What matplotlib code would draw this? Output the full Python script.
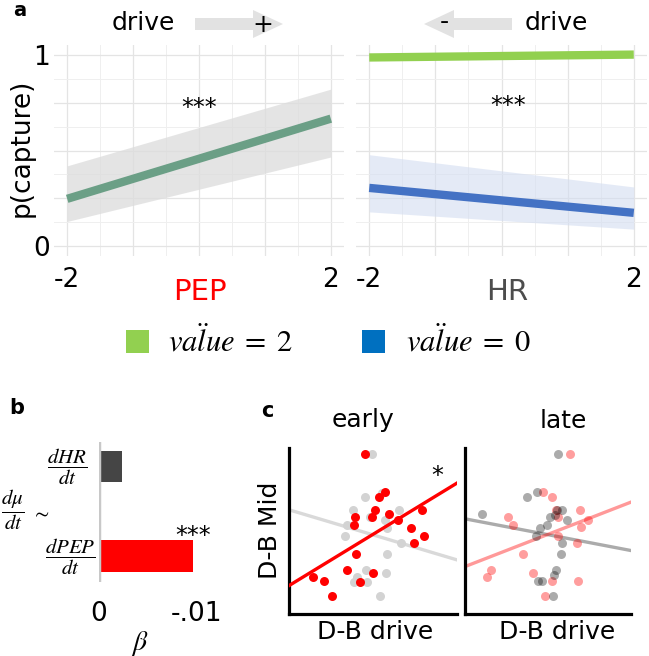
import matplotlib
matplotlib.use("Agg")
import matplotlib.pyplot as plt
from matplotlib.patches import FancyArrow, Rectangle

plt.rcParams.update({
    "font.family": ["DejaVu Sans"],
    "mathtext.fontset": "stix",
    "axes.unicode_minus": False,
})

W, H = 649, 656

# ---- panel a: p(capture) vs drive ----
drive_x = [-2, 2]
pep_fit = [0.248, 0.666]
pep_lo = [0.13, 0.466]
pep_hi = [0.42, 0.82]
hr_fit_v2 = [0.985, 1.0]
hr_fit_v0 = [0.305, 0.175]
hr_lo_v0 = [0.18, 0.09]
hr_hi_v0 = [0.478, 0.31]
a_stars = [(0.0, 0.72), (0.1, 0.73)]
a_xticks = [-2, -1, 0, 1, 2]
a_xticklabels = ["-2", "", "", "", "2"]
a_yticks = [0, 0.25, 0.5, 0.75, 1]
a_yticklabels = ["0", "", "", "", "1"]
legend_labels = [r"$va\ddot{l}ue\;=\;2$", r"$va\ddot{l}ue\;=\;0$"]

# ---- panel b: beta of d(mu)/dt ~ dHR/dt + dPEP/dt ----
b_terms = [r"$\dfrac{dPEP}{dt}$", r"$\dfrac{dHR}{dt}$"]
b_beta = [-0.00959, -0.00235]
b_ticks = [0, -0.01]
b_ticklabels = ["0", "-.01"]

# ---- panel c: D-B Mid vs D-B drive ----
early_red_x = [4.56, 5.76, 5.36, 5.12, 5.00, 6.00, 3.96, 3.90, 6.52, 7.96,
               7.32, 8.10, 7.46, 4.00, 3.50, 5.04, 4.28, 1.46, 2.08, 2.56]
early_red_y = [9.60, 7.28, 6.98, 6.20, 5.80, 6.00, 5.80, 5.32, 5.64, 6.20,
               5.16, 4.70, 4.24, 3.58, 2.64, 2.46, 1.94, 2.22, 1.96, 1.10]
early_grey_x = [4.96, 4.56, 5.56, 3.82, 4.86, 6.56, 5.76, 3.46, 3.36, 5.86,
                6.68, 5.86, 4.60, 5.80, 4.06, 3.92, 4.66, 5.46]
early_grey_y = [9.60, 7.00, 7.24, 6.20, 5.80, 6.20, 5.64, 5.32, 4.68, 5.14,
                4.24, 3.58, 2.64, 2.46, 2.24, 1.94, 1.94, 1.10]
early_red_fit = ([0, 10.06], [1.70, 7.84])
early_grey_fit = ([0, 10.06], [6.24, 3.24])

late_red_x = [6.30, 4.70, 5.24, 5.46, 5.60, 6.90, 7.40, 6.96, 2.56, 2.90,
              5.60, 6.72, 3.50, 1.54, 1.34, 4.06, 5.20, 6.80, 4.80]
late_red_y = [9.60, 7.28, 7.00, 6.20, 5.80, 6.24, 5.64, 5.18, 5.78, 5.32,
              4.70, 4.24, 3.58, 2.64, 2.22, 2.46, 1.98, 1.96, 1.10]
late_grey_x = [5.56, 3.74, 4.30, 1.00, 5.50, 5.80, 5.10, 6.10, 4.90, 4.50,
               4.24, 5.80, 5.74, 5.44, 5.36, 4.36, 4.64, 5.30, 5.40]
late_grey_y = [9.60, 6.98, 7.28, 6.00, 6.24, 6.20, 5.80, 5.64, 5.32, 5.14,
               4.70, 4.24, 3.58, 2.64, 2.34, 1.96, 1.96, 1.10, 5.94]
late_red_fit = ([0, 9.96], [2.84, 6.70])
late_grey_fit = ([0, 9.96], [5.70, 3.80])
early_star = (8.86, 8.24)

GREEN = "#92d050"
BLUE = "#0070c0"
LINE_BLUE = "#4472c4"
PEP_LINE = "#6b9f86"
RED = "#ff0000"
DOT = 42


def px_axes(fig, x0, y0, x1, y1):
    return fig.add_axes([x0 / W, 1 - y1 / H, (x1 - x0) / W, (y1 - y0) / H])


fig = plt.figure(figsize=(W / 100, H / 100), dpi=100)

# panel a axes
axL = px_axes(fig, 54, 45, 344, 256)
axR = px_axes(fig, 356, 45, 647, 256)
for ax in (axL, axR):
    ax.set_xlim(-2.2, 2.2)
    ax.set_ylim(-0.05, 1.05)
    ax.set_xticks(a_xticks)
    ax.set_xticks([-1.5, -0.5, 0.5, 1.5], minor=True)
    ax.set_yticks(a_yticks)
    ax.set_yticks([0.125, 0.375, 0.625, 0.875], minor=True)
    ax.set_xticklabels(a_xticklabels, fontsize=19)
    ax.grid(which="major", color="#e4e4e4", lw=0.9)
    ax.grid(which="minor", color="#efefef", lw=0.7)
    ax.set_axisbelow(True)
    ax.tick_params(which="both", length=0)
    ax.tick_params(axis="x", pad=8)
    for s in ax.spines.values():
        s.set_visible(False)
axL.set_yticklabels(a_yticklabels, fontsize=19)
axL.tick_params(axis="y", pad=3)
axR.set_yticklabels([])

axL.fill_between(drive_x, pep_lo, pep_hi, color="#dcdcdc", alpha=0.75, lw=0)
axL.plot(drive_x, pep_fit, color=PEP_LINE, lw=6, solid_capstyle="butt")
axR.fill_between(drive_x, hr_lo_v0, hr_hi_v0, color="#d3ddf1", alpha=0.6, lw=0)
axR.plot(drive_x, hr_fit_v0, color=LINE_BLUE, lw=6, solid_capstyle="butt")
axR.plot(drive_x, hr_fit_v2, color=GREEN, lw=6, solid_capstyle="butt")
for ax, (sx, sy) in zip((axL, axR), a_stars):
    ax.text(sx, sy, "***", fontsize=17, ha="center", va="center")

# panel b axes
axb = px_axes(fig, 99, 442, 215, 582)
axb.barh([0, 1], b_beta, height=0.35, color=[RED, "#454545"])
axb.axvline(0, color="#c8c8c8", lw=2.5)
axb.set_xlim(0, -0.01184)
axb.set_ylim(-0.29, 1.27)
axb.set_xticks(b_ticks)
axb.set_xticklabels(b_ticklabels, fontsize=19)
axb.set_yticks([])
axb.tick_params(length=0, pad=14)
for s in axb.spines.values():
    s.set_visible(False)
axb.text(b_beta[0], 0.22, "***", fontsize=17, ha="center", va="center")

# panel c axes
axE = px_axes(fig, 289, 448, 457, 614)
axLt = px_axes(fig, 465, 448, 631, 614)
for ax in (axE, axLt):
    ax.set_ylim(0, 9.94)
    ax.set_xticks([])
    ax.set_yticks([])
    for side in ("top", "right"):
        ax.spines[side].set_visible(False)
    for side in ("left", "bottom"):
        ax.spines[side].set_linewidth(2.3)
axE.set_xlim(0, 10.06)
axLt.set_xlim(0, 9.96)

axE.plot(*early_grey_fit, color="#d9d9d9", lw=2.4, zorder=1)
axE.scatter(early_grey_x, early_grey_y, s=DOT, color="#d3d3d3", lw=0, zorder=2,
            clip_on=False)
axE.plot(*early_red_fit, color=RED, lw=2.4, zorder=3)
axE.scatter(early_red_x, early_red_y, s=DOT, color=RED, lw=0, zorder=4,
            clip_on=False)
axE.text(*early_star, "*", fontsize=17, ha="center", va="center")

axLt.plot(*late_grey_fit, color="black", alpha=0.33, lw=2.4, zorder=1)
axLt.plot(*late_red_fit, color=RED, alpha=0.4, lw=2.4, zorder=1)
axLt.scatter(late_red_x, late_red_y, s=DOT, color=RED, alpha=0.38, lw=0, zorder=2,
             clip_on=False)
axLt.scatter(late_grey_x, late_grey_y, s=DOT, color="black", alpha=0.33, lw=0,
             zorder=3, clip_on=False)

# overlay for free text, arrows and legend (pixel coordinates)
ov = fig.add_axes([0, 0, 1, 1], zorder=-1)
ov.set_xlim(0, W)
ov.set_ylim(H, 0)
ov.axis("off")

ov.text(20, 10, "a", fontsize=14, fontweight="bold", ha="center", va="center")
ov.text(17, 408, "b", fontsize=15, fontweight="bold", ha="center", va="center")
ov.text(267, 411, "c", fontsize=15, fontweight="bold", ha="center", va="center")

ov.text(143, 23, "drive", fontsize=18, ha="center", va="center")
ov.add_patch(FancyArrow(195, 24, 88, 0, width=12, head_width=28, head_length=30,
                        length_includes_head=True, color="#e2e2e2", lw=0))
ov.text(263, 25, "+", fontsize=18, ha="center", va="center")
ov.add_patch(FancyArrow(512, 24, -88, 0, width=12, head_width=28, head_length=30,
                        length_includes_head=True, color="#e2e2e2", lw=0))
ov.text(444, 22, "-", fontsize=18, ha="center", va="center")
ov.text(556, 23, "drive", fontsize=18, ha="center", va="center")

ov.text(22, 148, "p(capture)", fontsize=19, rotation=90, ha="center", va="center")
ov.text(200, 292, "PEP", fontsize=21, color=RED, ha="center", va="center")
ov.text(507, 292, "HR", fontsize=21, color="#4d4d4d", ha="center", va="center")

for (sx, tx), col, lab in zip([(126, 168), (362, 406)], [GREEN, BLUE], legend_labels):
    ov.add_patch(Rectangle((sx, 330), 23, 23, color=col, lw=0))
    ov.text(tx, 341, lab, fontsize=22, ha="left", va="center")

ov.text(67, 467, b_terms[1], fontsize=15, ha="center", va="center")
ov.text(70, 557, b_terms[0], fontsize=15, ha="center", va="center")
ov.text(13, 510, r"$\dfrac{d\mu}{dt}$", fontsize=15, ha="center", va="center")
ov.text(40, 512, r"$\sim$", fontsize=15, ha="center", va="center")
ov.text(140, 643, r"$\beta$", fontsize=20, ha="center", va="center")

ov.text(363, 420, "early", fontsize=18, ha="center", va="center")
ov.text(563, 421, "late", fontsize=18, ha="center", va="center")
ov.text(375, 632, "D-B drive", fontsize=18, ha="center", va="center")
ov.text(557, 632, "D-B drive", fontsize=18, ha="center", va="center")
ov.text(270, 530, "D-B Mid", fontsize=18, rotation=90, ha="center", va="center")

fig.savefig("out.png", dpi=100)
